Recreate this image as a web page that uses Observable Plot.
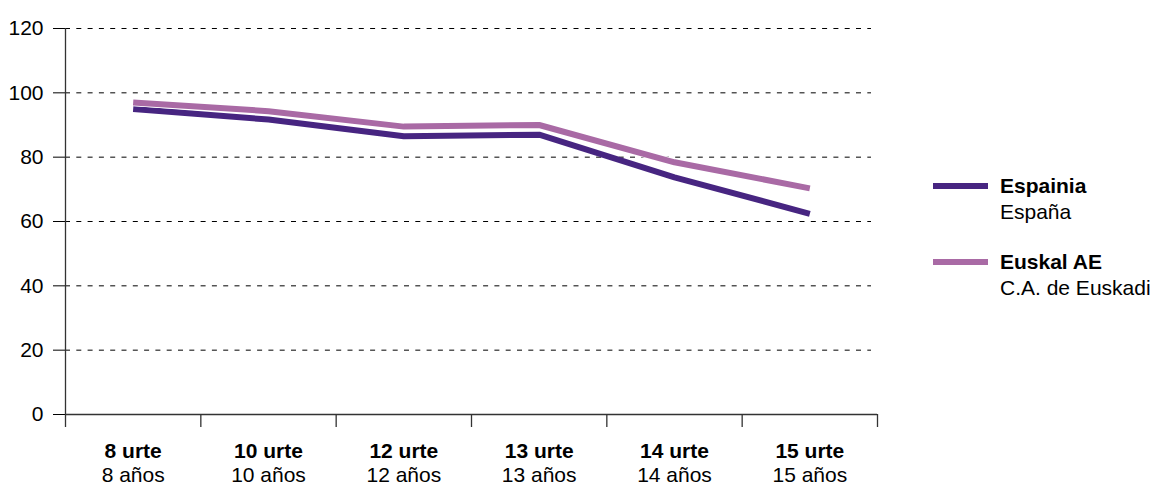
<!DOCTYPE html>
<html>
<head>
<meta charset="utf-8">
<script src="https://cdn.jsdelivr.net/npm/d3@7"></script>
<script src="https://cdn.jsdelivr.net/npm/@observablehq/plot@0.6"></script>
<style>
  body { margin: 0; background: #fff; font-family: "Liberation Sans", Arial, sans-serif; }
  #wrap { position: relative; width: 1153px; height: 484px; }
  #legend { position: absolute; left: 933px; top: 0; font-size: 21px; line-height: 26px; color: #000; }
  .item { position: absolute; left: 0; white-space: nowrap; }
  .sw { position: absolute; left: 0; top: 10px; width: 55px; height: 6px; }
  .txt { position: absolute; left: 67px; top: 0; }
  .txt b { font-weight: bold; }
</style>
</head>
<body>
<div id="wrap"></div>
<script>
// ---- data ----
const categoriesEu = ["8 urte", "10 urte", "12 urte", "13 urte", "14 urte", "15 urte"];
const categoriesEs = ["8 años", "10 años", "12 años", "13 años", "14 años", "15 años"];
const espainia = [95, 91.7, 86.5, 87, 73.7, 62.4];
const euskalAE = [97, 94.3, 89.5, 90, 78.4, 70.3];
const seriesNamesEu = ["Espainia", "Euskal AE"];
const seriesNamesEs = ["España", "C.A. de Euskadi"];
const seriesColors = ["#472581", "#a96aa5"];
const yTicks = [0, 20, 40, 60, 80, 100, 120];

// ---- tables ----
const idx = categoriesEu.map((_, i) => i);
const rowsEsp = idx.map(i => ({i, v: espainia[i]}));
const rowsEus = idx.map(i => ({i, v: euskalAE[i]}));
const boundaries = d3.range(categoriesEu.length + 1).map(k => k - 0.5);
const gridTicks = yTicks.filter(t => t !== 0);
const labels = idx.map(i => ({i, eu: categoriesEu[i], es: categoriesEs[i]}));
const xmin = -0.5, xmax = categoriesEu.length - 0.5;

const chart = Plot.plot({
  width: 1153,
  height: 484,
  marginLeft: 65,
  marginRight: 276,
  marginTop: 28,
  marginBottom: 70,
  style: {fontFamily: "'Liberation Sans', Arial, sans-serif", fontSize: "21px", color: "#000", background: "#fff"},
  x: {domain: [xmin, xmax], axis: null},
  y: {domain: [0, 120], ticks: yTicks, tickSize: 12, tickPadding: 10, label: null, tickFormat: d => String(d)},
  marks: [
    Plot.ruleY(gridTicks, {y: d => d, x1: xmin, x2: xmax, insetRight: 6, stroke: "#000", strokeWidth: 1, strokeDasharray: "5,6.3"}),
    Plot.ruleY([0], {x1: xmin, x2: xmax, stroke: "#333", strokeWidth: 1.3}),
    Plot.ruleX([xmin], {y1: 0, y2: 120, stroke: "#333", strokeWidth: 1.3}),
    Plot.ruleX(boundaries, {x: d => d, y1: 0, y2: 0, insetBottom: -13, stroke: "#333", strokeWidth: 1.3}),
    Plot.line(rowsEsp, {x: "i", y: "v", stroke: seriesColors[0], strokeWidth: 6, strokeLinecap: "butt", strokeLinejoin: "miter"}),
    Plot.line(rowsEus, {x: "i", y: "v", stroke: "#fff", strokeWidth: 7.5, strokeLinecap: "butt", strokeLinejoin: "miter"}),
    Plot.line(rowsEus, {x: "i", y: "v", stroke: seriesColors[1], strokeWidth: 6, strokeLinecap: "butt", strokeLinejoin: "miter"}),
    Plot.text(labels, {x: "i", text: "eu", frameAnchor: "bottom", lineAnchor: "bottom", dy: 43, fontWeight: "bold", fill: "#000"}),
    Plot.text(labels, {x: "i", text: "es", frameAnchor: "bottom", lineAnchor: "bottom", dy: 67, fill: "#000"})
  ]
});

const wrap = document.getElementById("wrap");
wrap.appendChild(chart);

// legend (HTML overlay)
const legend = document.createElement("div");
legend.id = "legend";
const tops = [173, 249];
seriesNamesEu.forEach((name, k) => {
  const item = document.createElement("div");
  item.className = "item";
  item.style.top = tops[k] + "px";
  const sw = document.createElement("div");
  sw.className = "sw";
  sw.style.background = seriesColors[k];
  const txt = document.createElement("div");
  txt.className = "txt";
  const b = document.createElement("b");
  b.textContent = name;
  txt.appendChild(b);
  txt.appendChild(document.createElement("br"));
  txt.appendChild(document.createTextNode(seriesNamesEs[k]));
  item.appendChild(sw);
  item.appendChild(txt);
  legend.appendChild(item);
});
wrap.appendChild(legend);
</script>
</body>
</html>
